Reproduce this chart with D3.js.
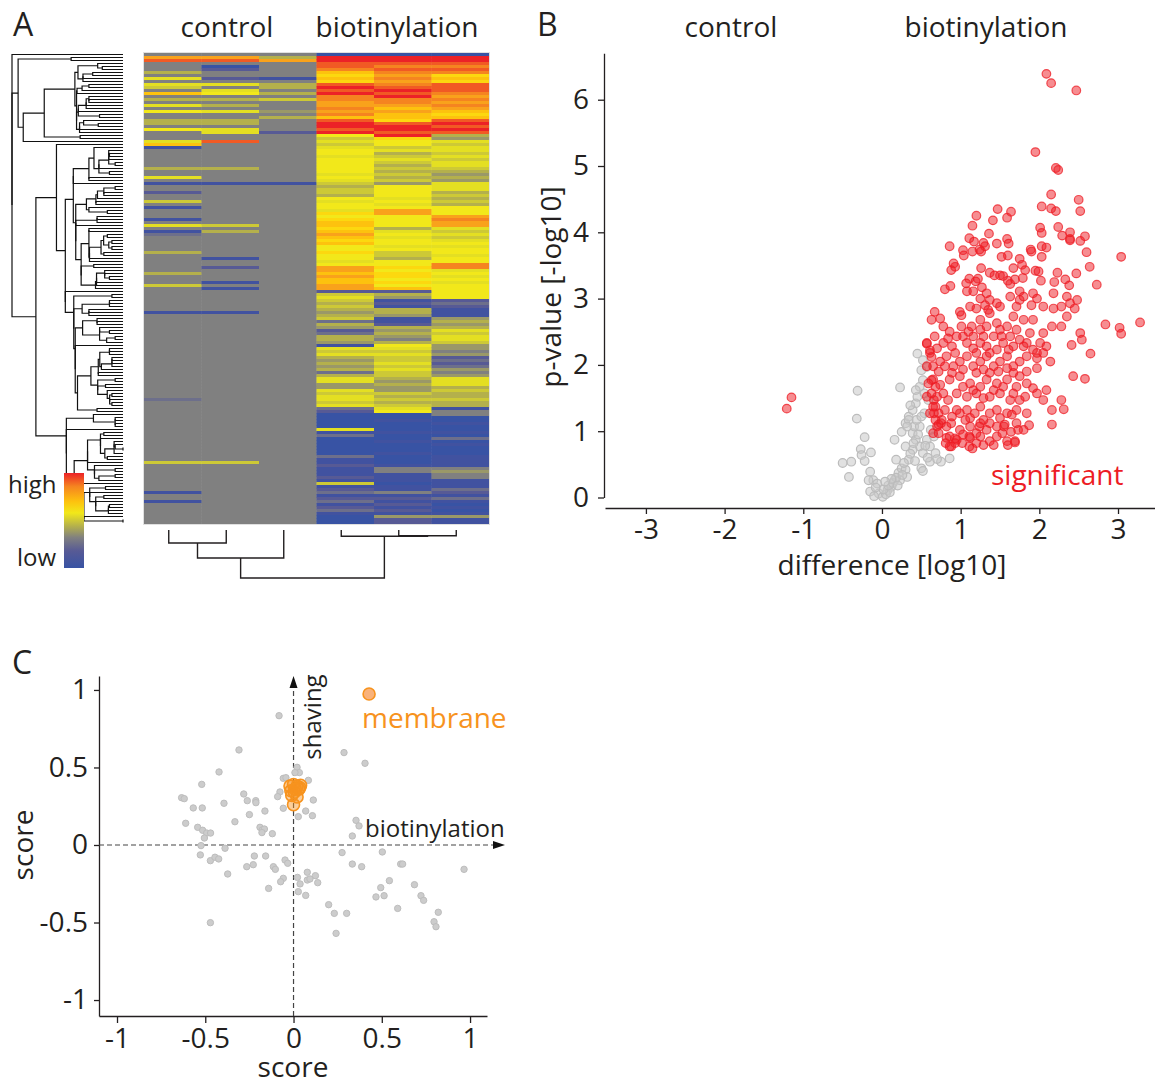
<!DOCTYPE html>
<html><head><meta charset="utf-8">
<script src="https://cdn.jsdelivr.net/npm/d3@7"></script>
<style>body{margin:0;background:#fff}svg{display:block;font-family:"Open Sans","Noto Sans",sans-serif}</style>
</head><body><svg id="fig" width="1155" height="1084"></svg>
<script>
// ================= DATA =================
// Panel A heatmap: one string per column, one character per row (level 0=low ... F=high, 4=grey)
const heatColumns = ["control 1","control 2","control 3","biotinylation 1","biotinylation 2","biotinylation 3"];
const heatLevels = "0123456789ABCDEF";
const heatColors = ["#3853a4","#4152a0","#575a95","#6d6f8b","#808080","#9a9868","#b4b04c","#cdc936",
                    "#e4df22","#f2e81a","#fcd80f","#fdc20e","#f9a21b","#f58420","#f15a24","#ec2227"];
const ctrl1 = "4CE4446484"+"874B464849"+"4466494448"+"B144444464"+"4841442447"+"4144414841"+"3444446444"+"4446444744"+"4444441444"+"4444444444"+"4444444444"+"4444434444"+"4444444444"+"4444447444"+"4444441441"+"4444444";
const ctrl2 = "4CE4024424"+"8489464648"+"446648844E"+"4444444464"+"4441444444"+"4444444746"+"4444444414"+"4244441414"+"4444441444"+"4444444444"+"4444444444"+"4444444444"+"4444444444"+"4444447444"+"4444444444"+"4444444";
const ctrl3 = "46C4444414"+"6646474445"+"4644442444"+"4444444444"+"4441444444"+"4444444444"+"4444444444"+"4444444444"+"4444444444"+"4444444444"+"4444444444"+"4444444444"+"4444444444"+"4444444444"+"4444444444"+"4444444";
const bio1  = "0FFEEDBABA"+"EFEFDDCCDC"+"DBEFFEF978"+"7899899999"+"8987677698"+"998A9ABBAB"+"CBAB99A998"+"9CCBCBBCC2"+"7876765673"+"6523665187"+"8656563688"+"5587887832"+"0000081300"+"0000311211"+"1217123123"+"1231000";
const bio2  = "0FFEDEDCDC"+"DEFEFDDCBC"+"BBAEFFEFA9"+"9786787676"+"7675999989"+"89CC999968"+"9899897769"+"9A9AA9A9B2"+"6512166511"+"2656546987"+"8778787765"+"6557676789"+"0010001001"+"0001000144"+"1110114121"+"2121522";
const bio3  = "0FFEDEDABA"+"EEEDCDCDCB"+"ABEFEFE658"+"7887878876"+"5658886767"+"6999CDCC87"+"8789899899"+"DD89898999"+"9923211156"+"5687887554"+"5232354588"+"8676676614"+"4001001030"+"1000111145"+"4411132131"+"0101511";
// column dendrogram merges (cluster ids: 0-5 leaves, 6.. new clusters)
const colMergeA = [0, 6, 4, 3, 7];
const colMergeB = [1, 2, 5, 8, 9];
const colMergeH = [0.87, 1.87, 0.38, 0.42, 3.2];

// Panel B volcano plot: [difference log10, p-value -log10]
const bTicksX = [-3,-2,-1,0,1,2,3];
const bTicksY = [0,1,2,3,4,5,6];
const significant = [
[2.09,6.39],[2.15,6.25],[2.47,6.14],[1.95,5.21],[2.21,4.97],[2.24,4.94],[2.15,4.57],[2.50,4.49],[2.03,4.39],[2.15,4.36],[2.21,4.32],[2.52,4.32],[1.47,4.35],[1.64,4.31],[1.59,4.22],[1.20,4.25],[1.41,4.18],[1.15,4.10],[2.01,4.07],[2.03,3.99],[2.24,4.08],[1.36,3.98],[2.29,3.95],[2.39,4.00],[2.39,3.90],[2.39,3.88],[2.58,3.94],[2.52,3.87],[1.11,3.91],[1.17,3.86],[1.29,3.84],[1.31,3.79],[1.46,3.83],[1.59,3.90],[1.61,3.83],[0.86,3.79],[1.03,3.73],[1.04,3.65],[1.15,3.71],[1.24,3.74],[1.26,3.71],[1.89,3.74],[1.90,3.71],[2.03,3.79],[2.09,3.77],[1.52,3.63],[1.60,3.65],[2.03,3.63],[2.60,3.70],[3.04,3.63],[1.75,3.60],[0.91,3.53],[0.88,3.43],[0.93,3.48],[1.26,3.46],[1.67,3.46],[1.78,3.51],[1.82,3.43],[1.95,3.42],[1.99,3.41],[2.23,3.39],[2.47,3.38],[2.64,3.48],[1.37,3.39],[1.43,3.35],[1.50,3.35],[1.54,3.34],[1.11,3.30],[1.22,3.30],[1.19,3.26],[1.60,3.27],[1.63,3.22],[1.69,3.29],[1.79,3.31],[2.02,3.27],[2.19,3.25],[2.33,3.29],[2.38,3.20],[2.73,3.21],[0.80,3.14],[0.87,3.19],[1.08,3.11],[1.27,3.17],[1.07,3.23],
[1.33,3.08],[1.37,2.98],[1.31,2.90],[1.46,2.93],[1.35,2.83],[1.50,2.88],[1.25,3.00],[1.16,3.11],[1.12,2.88],[1.20,2.85],[1.75,3.11],[1.92,3.08],[1.63,3.03],[1.75,2.98],[1.80,3.03],[1.97,3.00],[1.90,2.90],[1.71,2.88],[2.18,3.08],[2.35,3.03],[2.48,2.98],[2.05,2.88],[2.18,2.85],[2.28,2.88],[2.39,2.93],[2.45,2.85],[2.35,2.73],[0.67,2.80],[0.63,2.68],[0.74,2.70],[0.99,2.80],[1.01,2.75],[2.84,2.61],[3.02,2.56],[3.04,2.47],[3.28,2.64],[1.67,2.73],[1.80,2.68],[1.92,2.68],[1.25,2.68],[1.37,2.78],
[0.78,2.58],[0.86,2.50],[0.95,2.43],[0.78,2.33],[0.89,2.28],[0.67,2.43],[0.57,2.33],[0.61,2.18],[1.01,2.58],[1.10,2.50],[1.16,2.43],[1.25,2.53],[1.33,2.58],[1.08,2.33],[1.16,2.25],[1.25,2.33],[1.33,2.28],[1.42,2.43],[1.50,2.53],[1.59,2.58],[1.63,2.43],[1.54,2.33],[1.46,2.23],[1.67,2.28],[1.75,2.38],[1.84,2.33],[1.92,2.23],[2.01,2.33],[2.09,2.28],[2.16,2.58],[2.28,2.58],[2.05,2.48],[2.52,2.48],[2.54,2.38],[2.41,2.30],[2.65,2.17],
[0.65,1.98],[0.74,2.05],[0.82,2.13],[0.91,1.98],[0.99,2.05],[1.08,2.13],[1.16,1.98],[1.25,2.05],[1.33,2.13],[1.42,1.98],[1.50,2.05],[1.59,2.13],[1.67,1.98],[1.75,2.05],[1.84,2.13],[1.97,2.10],[2.05,2.18],[2.14,2.05],[1.97,1.95],[1.67,1.88],[1.75,1.83],[1.59,1.78],[1.46,1.72],[1.33,1.78],[1.25,1.67],[1.12,1.72],[0.99,1.83],[0.86,1.78],[0.74,1.70],[0.65,1.78],[0.63,1.57],[0.78,1.57],[0.95,1.57],[1.08,1.52],[1.20,1.57],[1.37,1.52],[1.50,1.57],[1.84,1.72],[1.92,1.65],[1.97,1.57],[2.09,1.62],[1.82,1.52],[2.05,1.47],[2.28,1.47],[2.16,1.32],[2.31,1.33],[2.58,1.79],[2.43,1.83],[1.71,1.67],[1.63,1.47],
[0.65,1.37],[0.72,1.27],[0.80,1.32],[0.89,1.22],[0.99,1.27],[1.08,1.32],[1.18,1.27],[1.25,1.37],[1.37,1.27],[1.46,1.32],[1.59,1.27],[1.71,1.32],[1.84,1.27],[0.72,1.10],[0.82,1.07],[0.99,1.02],[1.12,1.07],[1.25,1.12],[1.33,1.02],[1.46,1.07],[1.56,1.10],[1.71,1.12],[1.80,1.02],[2.16,1.10],[0.82,0.90],[0.95,0.87],[1.12,0.90],[1.25,0.92],[1.37,0.85],[0.86,0.77],[1.59,0.85],[1.69,0.85],
[0.81,0.82],[0.88,0.77],[0.93,0.82],[1.02,0.82],[1.11,0.77],[1.15,0.74],[1.20,0.82],[1.29,0.79],[1.42,0.79],[1.60,0.79],[1.69,0.83],[0.86,0.92],[0.93,0.89],[1.11,0.92],[0.70,1.07],[0.72,0.97],[0.68,1.17],[0.75,1.12],[0.88,1.12],[1.06,1.17],[1.24,1.07],[1.37,1.12],[1.55,1.07],[1.73,1.02],[1.87,1.09],[1.53,0.97],[1.64,0.99],
[0.66,1.47],[0.68,1.37],[0.66,1.27],[0.57,2.32],[0.61,2.22],[0.63,2.12],[0.63,1.77],[0.68,1.67],
[0.70,2.25],[0.84,2.40],[0.93,2.18],[1.03,2.43],[1.14,2.58],[1.20,2.18],[1.29,2.43],[1.37,2.18],[1.46,2.63],[1.52,2.43],[1.61,2.23],[1.71,2.53],[1.80,2.28],[1.88,2.48],[1.97,2.18],[0.72,1.90],[0.80,1.98],[0.89,1.88],[1.03,1.93],[1.20,1.88],[1.29,1.93],[1.37,1.88],[1.48,1.90],[1.59,1.95],[1.84,1.90],[0.70,1.52],[0.84,1.47],[1.03,1.67],[1.16,1.62],[1.29,1.50],[1.42,1.62],[1.54,1.67],[1.67,1.57],[1.75,1.47],[0.95,1.32],[1.12,1.20],[1.29,1.17],[1.50,1.20],[1.65,1.25],[0.76,1.17],[1.03,0.95],[1.20,0.97],[1.46,0.92],[0.65,0.97],[0.57,1.98],[0.59,1.72],[0.61,1.27],[0.57,1.52],
[-1.15,1.51],[-1.21,1.34]
];
const notSignificant = [
[-0.31,1.61],[-0.32,1.19],[-0.22,0.91],[-0.27,0.73],[-0.14,0.68],[-0.39,0.54],[-0.50,0.52],[-0.42,0.31],[-0.26,0.64],[-0.22,0.55],[-0.15,0.39],[-0.11,0.26],[-0.17,0.26],[-0.06,0.21],[-0.15,0.09],[-0.04,0.06],[0.01,0.01],[0.07,0.11],[0.12,0.16],[0.16,0.26],[0.21,0.37],[0.25,0.44],[0.30,0.42],[0.32,0.31],[0.23,0.26],[0.18,0.57],[0.16,0.87],[0.25,0.99],[0.30,1.12],[0.34,1.22],[0.39,1.32],[0.43,1.42],[0.45,1.52],[0.48,1.67],[0.52,1.77],[0.50,1.92],[0.45,2.17],[0.52,2.07],[0.57,1.97],[0.54,1.57],[0.59,1.47],[0.39,0.97],[0.43,0.87],[0.48,0.77],[0.52,0.67],[0.57,0.87],[0.61,0.77],[0.66,0.92],[0.68,0.67],[0.75,0.54],[0.86,0.59],[0.61,0.54],[0.50,0.44],[0.39,0.72],[0.34,0.57],[0.30,0.77],[0.23,1.66],[0.34,1.17],[0.41,1.07],[0.48,1.07],[0.54,1.27],[0.43,1.62],[0.36,1.39],[0.32,1.07],
[0.05,0.05],[0.10,0.08],[0.02,0.12],[0.08,0.18],[0.14,0.22],[0.18,0.30],[0.20,0.18],[0.26,0.34],[0.12,0.28],[-0.08,0.15],[-0.10,0.02],[0.04,0.24],[0.28,0.52],[0.36,0.66],[0.42,0.55],[0.46,0.95],[0.55,0.78],[0.62,1.02],[0.44,1.17],[0.50,1.22],[0.40,0.82],[0.58,0.60],[0.70,0.58],[0.52,0.40]
];

// Panel C: score plot
const cTicks = [-1,-0.5,0,0.5,1];
const otherProteins = [
[-0.082,0.834],[-0.309,0.613],[-0.422,0.471],[0.286,0.596],[0.405,0.527],[0.020,0.501],[0.033,0.467],[0.008,0.467],[-0.058,0.430],[-0.043,0.434],[0.084,0.417],[-0.520,0.391],[-0.634,0.305],[-0.619,0.299],[-0.282,0.329],[-0.262,0.286],[-0.214,0.286],[-0.213,0.273],[-0.077,0.342],[-0.090,0.312],[-0.394,0.269],[-0.568,0.239],[-0.517,0.239],[-0.250,0.196],[-0.162,0.219],[0.069,0.219],[0.107,0.189],[0.112,0.290],[0.027,0.183],[-0.058,0.237],[-0.611,0.140],[-0.543,0.114],[-0.515,0.095],[-0.492,0.077],[-0.470,0.077],[-0.505,0.045],[-0.332,0.150],[-0.190,0.114],[-0.177,0.097],[-0.165,0.103],[-0.179,0.080],[-0.120,0.073],[0.354,0.159],[0.371,0.123],[0.333,0.058],[-0.524,-0.004],[-0.388,-0.021],[-0.528,-0.064],[-0.471,-0.101],[-0.445,-0.079],[-0.424,-0.090],[-0.222,-0.071],[-0.158,-0.071],[-0.048,-0.097],[-0.033,-0.118],[-0.265,-0.140],[-0.228,-0.127],[-0.114,-0.140],[-0.103,-0.157],[-0.373,-0.187],[0.022,-0.209],[0.078,-0.176],[0.124,-0.198],[0.078,-0.226],[0.093,-0.219],[0.137,-0.243],[0.037,-0.251],[-0.141,-0.280],[-0.058,-0.215],[-0.073,-0.237],[0.027,-0.301],[0.069,-0.325],[0.275,-0.049],[0.333,-0.123],[0.386,-0.140],[0.503,-0.045],[0.607,-0.123],[0.618,-0.123],[0.966,-0.157],[0.543,-0.230],[0.494,-0.275],[0.467,-0.335],[0.513,-0.327],[0.685,-0.256],[0.722,-0.327],[0.737,-0.357],[0.590,-0.409],[0.199,-0.385],[0.231,-0.441],[0.301,-0.441],[0.241,-0.570],[0.820,-0.434],[0.796,-0.495],[0.807,-0.527],[-0.471,-0.501]
];
const membraneProteins = [[-0.02,0.38],[0.0,0.39],[0.02,0.38],[0.04,0.385],[0.03,0.36],[-0.015,0.35],[0.005,0.34],[0.02,0.31],[-0.01,0.32],[0.0,0.26],[0.035,0.37],[0.01,0.36]];
const membraneLegendPoint = [0.428,0.974];

// ================= DRAWING =================
const svg = d3.select("#fig");
const ink = "#231f20";
const FONT = 28;

function txt(x,y,s,size,opts={}){
  const t = svg.append("text").attr("x",x).attr("y",y).text(s)
     .attr("font-size",size).attr("fill",opts.fill||ink)
     .attr("text-anchor",opts.anchor||"start");
  if(opts.rotate) t.attr("x",0).attr("y",0).attr("transform",`translate(${x},${y}) rotate(${opts.rotate})`);
  return t;
}

// ---------- Panel A ----------
txt(13,36,"A",32);
txt(227,37,"control",FONT,{anchor:"middle"});
txt(397,37,"biotinylation",FONT,{anchor:"middle"});

const cols = [ctrl1,ctrl2,ctrl3,bio1,bio2,bio3];
const nRows = ctrl1.length;
const xH = d3.scaleBand().domain(heatColumns).range([144,489]);
const yH = d3.scaleBand().domain(d3.range(nRows)).range([53,524]);
const colorH = d3.scaleOrdinal().domain(heatLevels.split("")).range(heatColors);

const cells = [];
cols.forEach((c,ci)=>{ for(let r=0;r<nRows;r++) cells.push({col:heatColumns[ci],row:r,v:c[r]}); });
svg.append("g").selectAll("rect").data(cells).join("rect")
  .attr("x",d=>xH(d.col)).attr("y",d=>yH(d.row))
  .attr("width",xH.bandwidth()+0.4).attr("height",yH.bandwidth()+0.4)
  .attr("fill",d=>colorH(d.v));
svg.append("rect").attr("x",143.5).attr("y",52.5).attr("width",346).attr("height",472)
  .attr("fill","none").attr("stroke","#e0e0e0").attr("stroke-width",1);

// row dendrogram: adjacency-constrained average-linkage clustering of the heatmap rows
const rowVec = d3.range(nRows).map(i=>cols.map(c=>heatLevels.indexOf(c[i])));
const D = rowVec.map(a=>rowVec.map(b=>Math.sqrt(d3.sum(a,(v,k)=>(v-b[k])**2))));
let cl = d3.range(nRows).map(i=>({m:[i],node:{h:0,y:yH(i)+yH.bandwidth()/2}}));
const avgD=(A,B)=>{let s=0;for(const i of A.m)for(const j of B.m)s+=D[i][j];return s/(A.m.length*B.m.length);};
let adj = d3.range(cl.length-1).map(k=>avgD(cl[k],cl[k+1]));
while(cl.length>1){
  const k = d3.minIndex(adj);
  const A=cl[k],B=cl[k+1];
  const node={h:Math.max(adj[k],A.node.h,B.node.h),y:(A.node.y+B.node.y)/2,children:[A.node,B.node]};
  const C={m:A.m.concat(B.m),node};
  cl.splice(k,2,C); adj.splice(k,1);
  if(k>0) adj[k-1]=avgD(cl[k-1],C);
  if(k<cl.length-1) adj[k]=avgD(C,cl[k+1]);
}
const rootNode = cl[0].node;
const xDen = d3.scaleLinear().domain([0,rootNode.h]).range([123,12]);
const rowLinks = d3.hierarchy(rootNode).descendants().filter(d=>d.children);
svg.append("g").attr("fill","none").attr("stroke","#111").attr("stroke-width",1.2)
  .selectAll("path").data(rowLinks).join("path")
  .attr("d",d=>{
    const n=d.data,[a,b]=n.children;
    return `M${xDen(a.h)},${a.y}H${xDen(n.h)}V${b.y}H${xDen(b.h)}`;
  });

// column dendrogram
const yCD = d3.scaleLinear().domain([0,3.2]).range([530,578]);
const colNodes = heatColumns.map(c=>({x:xH(c)+xH.bandwidth()/2-4,h:0}));
const colPaths=[];
colMergeA.forEach((a,i)=>{
  const A=colNodes[a],B=colNodes[colMergeB[i]],h=colMergeH[i];
  colPaths.push(`M${A.x},${yCD(A.h)}V${yCD(h)}H${B.x}V${yCD(B.h)}`);
  colNodes.push({x:(A.x+B.x)/2,h});
});
svg.append("g").attr("fill","none").attr("stroke",ink).attr("stroke-width",1.4)
  .selectAll("path").data(colPaths).join("path").attr("d",d=>d);

// legend
const grad = svg.append("defs").append("linearGradient").attr("id","hmgrad")
  .attr("x1",0).attr("y1",0).attr("x2",0).attr("y2",1);
[[0,"#ec2227"],[0.14,"#f58420"],[0.3,"#fdc20e"],[0.42,"#f2e81a"],[0.56,"#b4b04c"],[0.68,"#808080"],[0.82,"#575a95"],[1,"#3853a4"]]
  .forEach(([o,c])=>grad.append("stop").attr("offset",o).attr("stop-color",c));
svg.append("rect").attr("x",64).attr("y",473).attr("width",20).attr("height",95).attr("fill","url(#hmgrad)");
txt(8,493,"high",24);
txt(17,566,"low",24);

// ---------- Panel B ----------
txt(537,36,"B",32);
txt(731,37,"control",FONT,{anchor:"middle"});
txt(986,37,"biotinylation",FONT,{anchor:"middle"});

const xB = d3.scaleLinear().domain([-3.52,3.47]).range([605,1155]);
const yB = d3.scaleLinear().domain([0,6.7]).range([497.5,53.3]);
function styleAxis(g){
  g.select(".domain").attr("stroke",ink).attr("stroke-width",1.3);
  g.selectAll(".tick line").attr("stroke",ink).attr("stroke-width",1.3);
  g.selectAll(".tick text").attr("fill",ink).attr("font-size",FONT).attr("font-family",'"Open Sans","Noto Sans",sans-serif');
}
svg.append("g").attr("transform","translate(0,508)")
  .call(d3.axisBottom(xB).tickValues(bTicksX).tickSize(6).tickSizeOuter(0).tickPadding(5).tickFormat(d=>String(d)))
  .call(styleAxis);
svg.append("g").attr("transform","translate(604,0)")
  .call(d3.axisLeft(yB).tickValues(bTicksY).tickSize(6).tickSizeOuter(0).tickPadding(9).tickFormat(d=>String(d)))
  .call(styleAxis);
txt(892,575,"difference [log10]",FONT,{anchor:"middle"});
txt(561,287,"p-value [-log10]",FONT,{anchor:"middle",rotate:-90});

svg.append("g").selectAll("circle").data(notSignificant).join("circle")
  .attr("cx",d=>xB(d[0])).attr("cy",d=>yB(d[1])).attr("r",4.3)
  .attr("fill","#c9c9c9").attr("fill-opacity",0.55)
  .attr("stroke","#bcbcbc").attr("stroke-width",1.2);
svg.append("g").selectAll("circle").data(significant).join("circle")
  .attr("cx",d=>xB(d[0])).attr("cy",d=>yB(d[1])).attr("r",4.3)
  .attr("fill","#ed1c24").attr("fill-opacity",0.5)
  .attr("stroke","#ed1c24").attr("stroke-opacity",0.75).attr("stroke-width",1.2);
txt(991,485,"significant",FONT,{fill:"#ed1c24"});

// ---------- Panel C ----------
txt(12,674,"C",32);
const xC = d3.scaleLinear().domain([-1.102,1.096]).range([99,487]);
const yC = d3.scaleLinear().domain([-1.103,1.09]).range([1016,676]);
svg.append("g").attr("transform","translate(0,1016)")
  .call(d3.axisBottom(xC).tickValues(cTicks).tickSize(7).tickSizeOuter(0).tickPadding(5).tickFormat(d=>String(d)))
  .call(styleAxis);
svg.append("g").attr("transform","translate(99,0)")
  .call(d3.axisLeft(yC).tickValues(cTicks).tickSize(5).tickSizeOuter(0).tickPadding(6).tickFormat(d=>String(d)))
  .call(styleAxis);
txt(293,1077,"score",FONT,{anchor:"middle"});
txt(33,845,"score",FONT,{anchor:"middle",rotate:-90});

// dashed reference axes with arrows
const ax0 = xC(0), ay0 = yC(0);
const hTip = xC.range()[1]+18, vTip = yC.range()[1];
svg.append("line").attr("x1",xC.range()[0]).attr("x2",hTip-10).attr("y1",ay0).attr("y2",ay0)
  .attr("stroke","#444").attr("stroke-width",1.2).attr("stroke-dasharray","5,3");
svg.append("path").attr("d",`M${hTip},${ay0}L${hTip-12},${ay0-4}L${hTip-12},${ay0+4}Z`).attr("fill","#111");
svg.append("line").attr("x1",ax0).attr("x2",ax0).attr("y1",yC.range()[0]).attr("y2",vTip+10)
  .attr("stroke","#444").attr("stroke-width",1.2).attr("stroke-dasharray","5,3");
svg.append("path").attr("d",`M${ax0},${vTip}L${ax0-4},${vTip+12}L${ax0+4},${vTip+12}Z`).attr("fill","#111");

svg.append("g").selectAll("circle").data(otherProteins).join("circle")
  .attr("cx",d=>xC(d[0])).attr("cy",d=>yC(d[1])).attr("r",3.2)
  .attr("fill","#cccccc").attr("stroke","#bdbdbd").attr("stroke-width",1);
svg.append("g").selectAll("circle").data(membraneProteins).join("circle")
  .attr("cx",d=>xC(d[0])).attr("cy",d=>yC(d[1])).attr("r",6)
  .attr("fill","#f7931e").attr("fill-opacity",0.45)
  .attr("stroke","#f7931e").attr("stroke-width",1.6);
svg.append("circle").attr("cx",xC(membraneLegendPoint[0])).attr("cy",yC(membraneLegendPoint[1])).attr("r",6)
  .attr("fill","#f9b27a").attr("stroke","#f7931e").attr("stroke-width",1.6);
txt(362,728,"membrane",FONT,{fill:"#f7931e"});
txt(365,837,"biotinylation",24);
txt(321,717,"shaving",24,{anchor:"middle",rotate:-90});
</script></body></html>
